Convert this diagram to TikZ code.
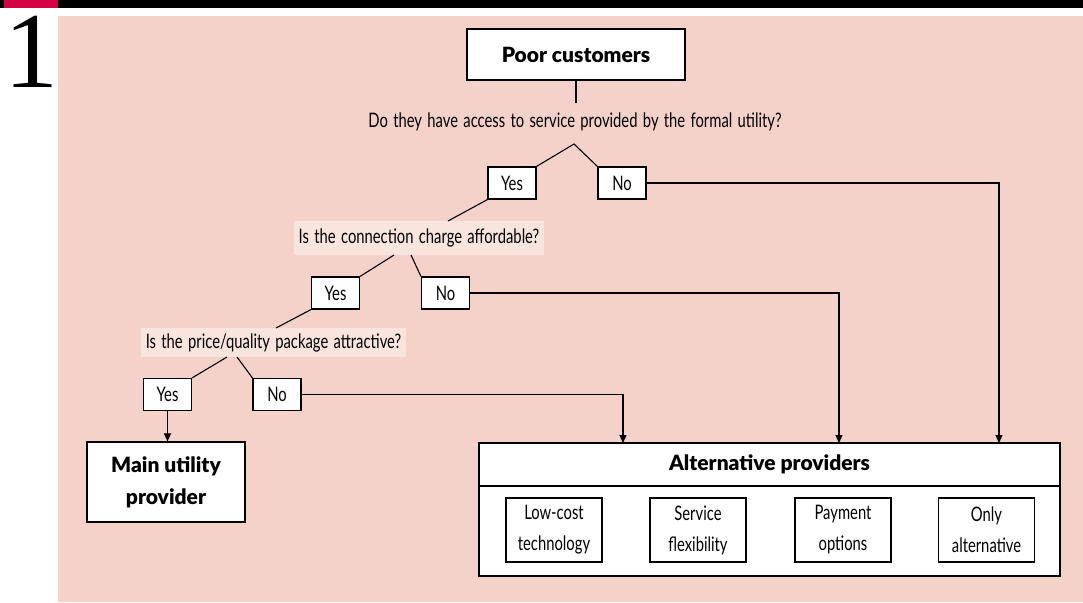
\documentclass[tikz,border=0pt]{standalone}
\usepackage{fontspec}
\setmainfont{Lato}[FakeStretch=0.74,WordSpace=1.4]
\newfontfamily\headfont{Lato}[BoldFont={Lato Black}]
\newfontfamily\numfont{Liberation Serif}
\usetikzlibrary{positioning,arrows.meta}
\definecolor{bgpink}{HTML}{F4D1C9}
\definecolor{qpink}{HTML}{F9E4DE}
\definecolor{barred}{HTML}{D40045}

\begin{document}
\begin{tikzpicture}[x=0.5pt,y=-0.5pt,
							ansnode/.style={draw=black, line width=0.6pt, fill=white, minimum width=24pt, minimum height=16pt, inner sep=0pt, font=\fontsize{10}{11}\selectfont},
							questnode/.style={fill=qpink, inner xsep=2.5pt, inner ysep=0pt, minimum height=17pt, font=\fontsize{10}{11}\selectfont},
							headnode/.style={draw=black, line width=0.6pt, fill=white, align=center, inner sep=0pt, font=\headfont\bfseries\fontsize{10.5}{16}\selectfont},
							optnode/.style={draw=black, line width=0.6pt, fill=white, align=center, minimum width=48pt, minimum height=32pt, inner sep=0pt, font=\fontsize{10}{15.5}\selectfont},
							link/.style={line width=0.55pt},
							arr/.style={line width=0.55pt, -{Triangle[length=4pt,width=3.5pt]}},
							]
							\useasboundingbox (0,0) rectangle (1083,602);
							%Frame
							\fill[black] (0,0) rectangle (1083,8);
							\fill[barred] (4,0) rectangle (58,8);
							\fill[bgpink] (58,16) rectangle (1083,602);
							\node[font=\numfont\fontsize{54}{54}\selectfont, anchor=base, inner sep=0pt] (fignum) at (31.5,87) {1};
							
							%Nodes
							\node[headnode, minimum width=109pt, minimum height=25.5pt] (poor) at (576,54.5) {Poor customers};
							\node[font=\fontsize{10}{11}\selectfont] (q1) at (575,122) {Do they have access to service provided by the formal utility?};
							\coordinate (q1in) at (576,103);
							\coordinate (top1) at (574,144);
							\node[ansnode] (yes1) at (512,183) {Yes};
							\node[ansnode] (no1) at (622,183) {No};
							\node[questnode] (q2) at (419,238) {Is the connection charge affordable?};
							\coordinate (q2in) at (448,221);
							\coordinate (q2l) at (394,255);
							\coordinate (q2r) at (411,255);
							\node[ansnode] (yes2) at (335.5,293) {Yes};
							\node[ansnode] (no2) at (445.5,293) {No};
							\node[questnode, minimum height=14.5pt] (q3) at (273.5,342.5) {Is the price/quality package attractive?};
							\coordinate (q3in) at (276,328);
							\coordinate (q3l) at (227,357);
							\coordinate (q3r) at (237,357);
							\node[ansnode] (yes3) at (167.5,394.5) {Yes};
							\node[ansnode] (no3) at (277,394.5) {No};
							\node[headnode, minimum width=79pt, minimum height=40pt] (main) at (166,482) {Main utility\\provider};
							\node[headnode, minimum width=290.5pt, minimum height=21.5pt] (alttitle) at (769.5,464.5) {Alternative providers};
							\node[draw=black, line width=0.6pt, fill=white, minimum width=290.5pt, minimum height=45pt] (altbody) at (769.5,531) {};
							\node[optnode] (lowcost) at (554,530) {Low-cost\\technology};
							\node[optnode] (flex) at (698,530) {Service\\flexibility};
							\node[optnode] (pay) at (843,530) {Payment\\options};
							\node[optnode] (only) at (986.5,530) {Only\\alternative};
							\coordinate (k1) at (999,443);
							\coordinate (k2) at (839,443);
							\coordinate (k3) at (623,443);
							
							%Lines
							\draw[link] (poor.south) -- (q1in);
							\draw[link] (yes1.north east) -- (top1) -- (no1.north west);
							\draw[link] (yes1.south west) -- (q2in);
							\draw[link] (q2l) -- (yes2.north east);
							\draw[link] (q2r) -- (no2.north west);
							\draw[link] (yes2.south west) -- (q3in);
							\draw[link] (q3l) -- (yes3.north east);
							\draw[link] (q3r) -- (no3.north west);
							\draw[arr] (yes3.south) -- (yes3.south |- main.north);
							\draw[arr] (no3.east) -| (k3);
							\draw[arr] (no2.east) -| (k2);
							\draw[arr] (no1.east) -| (k1);
						\end{tikzpicture}
\end{document}
